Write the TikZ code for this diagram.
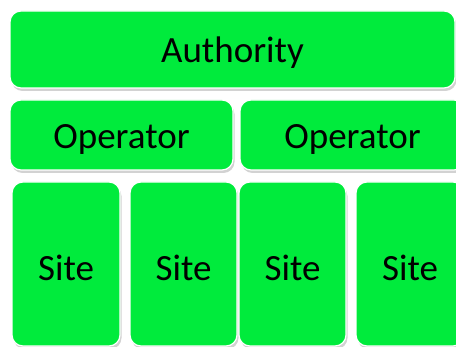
\documentclass[tikz,border=0pt]{standalone}
\usepackage{fontspec}
\setmainfont{Carlito}
\usepackage{tikz}
\usetikzlibrary{shadows}
\definecolor{levelgreen}{RGB}{0,235,60}

\begin{document}
\begin{tikzpicture}[x=1pt,y=-1pt,
    level/.style={draw=white,line width=1.2pt,fill=levelgreen,rounded corners=11pt,
      inner sep=0pt,font=\fontsize{37}{40}\selectfont,text height=27pt,text depth=0pt,
      drop shadow={shadow xshift=1.5pt,shadow yshift=-3pt,fill=black!22,opacity=0.8}}]
    \useasboundingbox (0,0) rectangle (456,347);
    \fill[white] (0,0) rectangle (456,347);
    \clip (0,0) rectangle (456,347);
    % Oeverste niveau
    \node[level,minimum width=445pt,minimum height=77pt] (authority) at (232.5,49.5) {Authority};
    % Mellemste niveau
    \node[level,minimum width=223pt,minimum height=70pt] (op1) at (121.5,135) {Operator};
    \node[level,minimum width=225pt,minimum height=70pt] (op2) at (352.5,135) {Operator};
    % Nederste niveau
    \node[level,text height=34pt,minimum width=108pt,minimum height=164pt] (site1) at (66,264) {Site};
    \node[level,text height=34pt,minimum width=107pt,minimum height=164pt] (site2) at (183.5,264) {Site};
    \node[level,text height=34pt,minimum width=107pt,minimum height=164pt] (site3) at (292.5,264) {Site};
    \node[level,text height=34pt,minimum width=108pt,minimum height=164pt] (site4) at (410,264) {Site};
  \end{tikzpicture}
\end{document}
